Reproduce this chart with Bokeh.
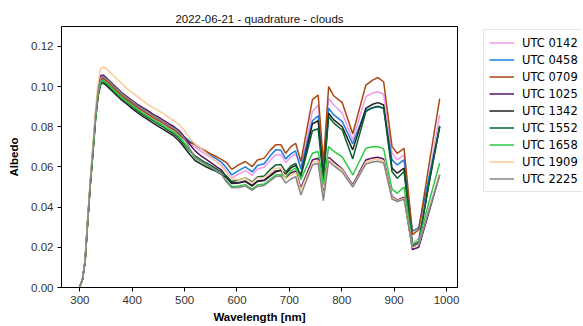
from bokeh.plotting import figure
from bokeh.layouts import row
from bokeh.models import Range1d, Legend, LegendItem, FixedTicker, NumeralTickFormatter
from bokeh.embed import file_html
from bokeh.resources import INLINE

# ---------------- data ----------------
wavelength = [300, 305, 310, 315, 320, 325, 330, 335, 340, 345,
              350, 360, 370, 380, 390, 400, 410, 420, 430, 440,
              450, 460, 470, 480, 490, 500, 510, 520, 530, 540,
              550, 560, 570, 580, 590, 603, 616, 629, 639, 652,
              664, 674, 684, 693, 703, 712, 722, 744, 755, 765,
              775, 785, 801, 821, 846, 859, 869, 880, 896, 906,
              919, 935, 947, 966, 987]

utc_0142 = [0.0005, 0.0040, 0.0129, 0.0328, 0.0518, 0.0678, 0.0848, 0.0965, 0.1030, 0.1035,
            0.1025, 0.1000, 0.0975, 0.0950, 0.0930, 0.0910, 0.0892, 0.0875, 0.0858, 0.0842,
            0.0827, 0.0812, 0.0796, 0.0780, 0.0757, 0.0732, 0.0714, 0.0700, 0.0680, 0.0663,
            0.0646, 0.0628, 0.0610, 0.0578, 0.0545, 0.0565, 0.0582, 0.0558, 0.0590, 0.0598,
            0.0635, 0.0660, 0.0662, 0.0622, 0.0650, 0.0665, 0.0600, 0.0875, 0.0908, 0.0600,
            0.0941, 0.0908, 0.0868, 0.0734, 0.0950, 0.0968, 0.0974, 0.0962, 0.0670, 0.0635,
            0.0660, 0.0220, 0.0245, 0.0540, 0.0860]

utc_0458 = [0.0005, 0.0041, 0.0132, 0.0333, 0.0522, 0.0683, 0.0855, 0.0975, 0.1040, 0.1048,
            0.1038, 0.1012, 0.0988, 0.0962, 0.0942, 0.0922, 0.0903, 0.0887, 0.0870, 0.0855,
            0.0840, 0.0826, 0.0810, 0.0795, 0.0770, 0.0748, 0.0728, 0.0712, 0.0692, 0.0675,
            0.0657, 0.0641, 0.0624, 0.0595, 0.0560, 0.0582, 0.0600, 0.0575, 0.0607, 0.0616,
            0.0657, 0.0685, 0.0683, 0.0640, 0.0665, 0.0680, 0.0590, 0.0830, 0.0855, 0.0570,
            0.0892, 0.0859, 0.0826, 0.0715, 0.0883, 0.0895, 0.0900, 0.0892, 0.0635, 0.0610,
            0.0635, 0.0280, 0.0298, 0.0540, 0.0800]

utc_0709 = [0.0005, 0.0040, 0.0130, 0.0330, 0.0520, 0.0680, 0.0850, 0.0970, 0.1035, 0.1040,
            0.1030, 0.1005, 0.0980, 0.0955, 0.0935, 0.0915, 0.0897, 0.0880, 0.0863, 0.0847,
            0.0832, 0.0818, 0.0800, 0.0785, 0.0762, 0.0738, 0.0722, 0.0712, 0.0695, 0.0680,
            0.0665, 0.0652, 0.0638, 0.0622, 0.0588, 0.0610, 0.0627, 0.0602, 0.0635, 0.0644,
            0.0685, 0.0710, 0.0710, 0.0668, 0.0701, 0.0718, 0.0627, 0.0935, 0.0958, 0.0620,
            0.1000, 0.0953, 0.0920, 0.0765, 0.1007, 0.1032, 0.1045, 0.1024, 0.0701, 0.0668,
            0.0693, 0.0263, 0.0288, 0.0600, 0.0940]

utc_1025 = [0.0005, 0.0041, 0.0133, 0.0335, 0.0525, 0.0688, 0.0862, 0.0985, 0.1055, 0.1057,
            0.1045, 0.1020, 0.0995, 0.0970, 0.0950, 0.0930, 0.0912, 0.0895, 0.0880, 0.0862,
            0.0848, 0.0832, 0.0815, 0.0800, 0.0780, 0.0748, 0.0712, 0.0680, 0.0658, 0.0640,
            0.0622, 0.0603, 0.0586, 0.0550, 0.0520, 0.0522, 0.0530, 0.0508, 0.0530, 0.0535,
            0.0560, 0.0580, 0.0582, 0.0545, 0.0570, 0.0580, 0.0495, 0.0635, 0.0643, 0.0460,
            0.0648, 0.0625, 0.0590, 0.0511, 0.0635, 0.0645, 0.0648, 0.0640, 0.0453, 0.0435,
            0.0450, 0.0189, 0.0200, 0.0370, 0.0560]

utc_1342 = [0.0005, 0.0039, 0.0128, 0.0325, 0.0510, 0.0668, 0.0835, 0.0955, 0.1012, 0.1017,
            0.1007, 0.0982, 0.0957, 0.0932, 0.0912, 0.0890, 0.0870, 0.0852, 0.0835, 0.0818,
            0.0802, 0.0786, 0.0770, 0.0753, 0.0728, 0.0695, 0.0662, 0.0632, 0.0617, 0.0602,
            0.0590, 0.0578, 0.0563, 0.0547, 0.0518, 0.0520, 0.0528, 0.0505, 0.0528, 0.0532,
            0.0555, 0.0575, 0.0585, 0.0565, 0.0595, 0.0608, 0.0560, 0.0815, 0.0830, 0.0550,
            0.0867, 0.0834, 0.0800, 0.0685, 0.0892, 0.0912, 0.0920, 0.0908, 0.0594, 0.0569,
            0.0594, 0.0205, 0.0222, 0.0510, 0.0800]

utc_1552 = [0.0005, 0.0039, 0.0129, 0.0327, 0.0513, 0.0672, 0.0840, 0.0960, 0.1020, 0.1025,
            0.1015, 0.0990, 0.0965, 0.0940, 0.0920, 0.0900, 0.0880, 0.0862, 0.0845, 0.0829,
            0.0813, 0.0797, 0.0780, 0.0764, 0.0740, 0.0708, 0.0678, 0.0655, 0.0638, 0.0622,
            0.0608, 0.0592, 0.0575, 0.0555, 0.0528, 0.0535, 0.0545, 0.0525, 0.0550, 0.0555,
            0.0588, 0.0610, 0.0612, 0.0575, 0.0605, 0.0618, 0.0552, 0.0780, 0.0790, 0.0530,
            0.0850, 0.0818, 0.0784, 0.0640, 0.0875, 0.0895, 0.0902, 0.0892, 0.0577, 0.0544,
            0.0577, 0.0213, 0.0228, 0.0510, 0.0805]

utc_1658 = [0.0005, 0.0040, 0.0130, 0.0329, 0.0516, 0.0676, 0.0845, 0.0965, 0.1025, 0.1030,
            0.1020, 0.0995, 0.0970, 0.0945, 0.0925, 0.0905, 0.0886, 0.0869, 0.0852, 0.0836,
            0.0820, 0.0805, 0.0788, 0.0772, 0.0750, 0.0718, 0.0680, 0.0645, 0.0628, 0.0612,
            0.0597, 0.0582, 0.0565, 0.0532, 0.0503, 0.0505, 0.0512, 0.0490, 0.0510, 0.0515,
            0.0540, 0.0560, 0.0562, 0.0550, 0.0580, 0.0595, 0.0536, 0.0668, 0.0677, 0.0510,
            0.0701, 0.0677, 0.0650, 0.0560, 0.0693, 0.0700, 0.0701, 0.0690, 0.0490, 0.0470,
            0.0500, 0.0215, 0.0232, 0.0420, 0.0620]

utc_1909 = [0.0006, 0.0043, 0.0138, 0.0345, 0.0545, 0.0712, 0.0890, 0.1025, 0.1090, 0.1098,
            0.1090, 0.1065, 0.1040, 0.1015, 0.0990, 0.0970, 0.0950, 0.0930, 0.0910, 0.0895,
            0.0880, 0.0865, 0.0845, 0.0830, 0.0810, 0.0780, 0.0740, 0.0715, 0.0695, 0.0672,
            0.0650, 0.0628, 0.0605, 0.0572, 0.0540, 0.0535, 0.0545, 0.0520, 0.0545, 0.0548,
            0.0572, 0.0594, 0.0595, 0.0540, 0.0560, 0.0572, 0.0486, 0.0620, 0.0630, 0.0450,
            0.0640, 0.0615, 0.0585, 0.0505, 0.0625, 0.0635, 0.0638, 0.0630, 0.0448, 0.0432,
            0.0445, 0.0200, 0.0215, 0.0385, 0.0565]

utc_2225 = [0.0005, 0.0041, 0.0133, 0.0334, 0.0524, 0.0686, 0.0858, 0.0980, 0.1045, 0.1050,
            0.1040, 0.1015, 0.0990, 0.0965, 0.0945, 0.0925, 0.0905, 0.0888, 0.0872, 0.0855,
            0.0840, 0.0825, 0.0808, 0.0792, 0.0772, 0.0740, 0.0690, 0.0650, 0.0632, 0.0615,
            0.0600, 0.0583, 0.0565, 0.0525, 0.0496, 0.0498, 0.0505, 0.0484, 0.0503, 0.0508,
            0.0532, 0.0552, 0.0555, 0.0520, 0.0540, 0.0552, 0.0460, 0.0610, 0.0618, 0.0432,
            0.0630, 0.0605, 0.0575, 0.0500, 0.0615, 0.0625, 0.0628, 0.0620, 0.0440, 0.0428,
            0.0440, 0.0202, 0.0218, 0.0380, 0.0560]

series_labels = ["UTC 0142", "UTC 0458", "UTC 0709", "UTC 1025", "UTC 1342",
                 "UTC 1552", "UTC 1658", "UTC 1909", "UTC 2225"]
series_values = [utc_0142, utc_0458, utc_0709, utc_1025, utc_1342,
                 utc_1552, utc_1658, utc_1909, utc_2225]
series_colors = ["#ee9bf0", "#1a7fe0", "#a8470f", "#581068", "#222222",
                 "#0a5f30", "#2ec840", "#fdc994", "#858585"]

x_ticks = [300, 400, 500, 600, 700, 800, 900, 1000]
y_ticks = [0.00, 0.02, 0.04, 0.06, 0.08, 0.10, 0.12]

# ---------------- main figure ----------------
FONT = "Liberation Sans"

p = figure(width=475, height=325, output_backend="svg", toolbar_location=None,
           x_range=Range1d(265, 1021), y_range=Range1d(0, 0.1299),
           min_border_left=61, min_border_right=18, min_border_top=26,
           min_border_bottom=37, title="2022-06-21 - quadrature - clouds")

p.title.align = "center"
p.title.text_font = FONT
p.title.text_font_size = "11.5px"
p.title.text_font_style = "normal"
p.title.text_color = "#111111"
p.title.offset = 0
p.title.standoff = 4

p.xgrid.visible = False
p.ygrid.visible = False
p.outline_line_color = "black"
p.outline_line_width = 1
p.background_fill_color = "white"
p.border_fill_color = "white"

for ax in (p.xaxis[0], p.yaxis[0]):
    ax.axis_line_color = "black"
    ax.major_tick_line_color = "black"
    ax.major_tick_out = 4
    ax.major_tick_in = 0
    ax.minor_tick_line_color = None
    ax.major_label_text_font = FONT
    ax.major_label_text_font_size = "11.5px"
    ax.major_label_text_color = "#333333"
    ax.axis_label_text_font = FONT
    ax.axis_label_text_font_size = "11.5px"
    ax.axis_label_text_font_style = "bold"
    ax.axis_label_text_color = "black"
    ax.major_label_standoff = 4

p.xaxis.ticker = FixedTicker(ticks=x_ticks)
p.yaxis.ticker = FixedTicker(ticks=y_ticks)
p.yaxis.formatter = NumeralTickFormatter(format="0.00")
p.xaxis.axis_label = "Wavelength [nm]"
p.yaxis.axis_label = "Albedo"
p.xaxis.axis_label_standoff = 4
p.yaxis.axis_label_standoff = 8

for lab, vals, col in zip(series_labels, series_values, series_colors):
    p.line(wavelength, vals, line_color=col, line_width=1.5)

# ---------------- legend panel (separate figure) ----------------
# its lines use the same data but lie outside this panel's ranges,
# so only the legend entries are visible
lg = figure(width=107, height=325, output_backend="svg", toolbar_location=None,
            x_range=Range1d(0, 1), y_range=Range1d(0, 1),
            x_axis_location=None, y_axis_location=None,
            min_border_left=0, min_border_right=0, min_border_top=0,
            min_border_bottom=0)
lg.xgrid.visible = False
lg.ygrid.visible = False
lg.outline_line_color = None
lg.background_fill_color = "white"
lg.border_fill_color = "white"

items = []
for lab, vals, col in zip(series_labels, series_values, series_colors):
    r = lg.line(wavelength, vals, line_color=col, line_width=1.5)
    items.append(LegendItem(label=lab, renderers=[r]))

legend = Legend(items=items, location=(8, 95))
legend.label_text_font = "DejaVu Sans"
legend.label_text_font_size = "11.5px"
legend.label_text_color = "black"
legend.glyph_width = 25
legend.glyph_height = 15
legend.label_height = 15
legend.label_standoff = 8
legend.spacing = 2
legend.padding = 5
legend.margin = 0
legend.border_line_color = "#cccccc"
legend.border_line_width = 1
legend.background_fill_color = "white"
legend.background_fill_alpha = 1.0
lg.add_layout(legend, "center")

layout = row(p, lg)
open("out.html", "w").write(file_html(layout, INLINE))
